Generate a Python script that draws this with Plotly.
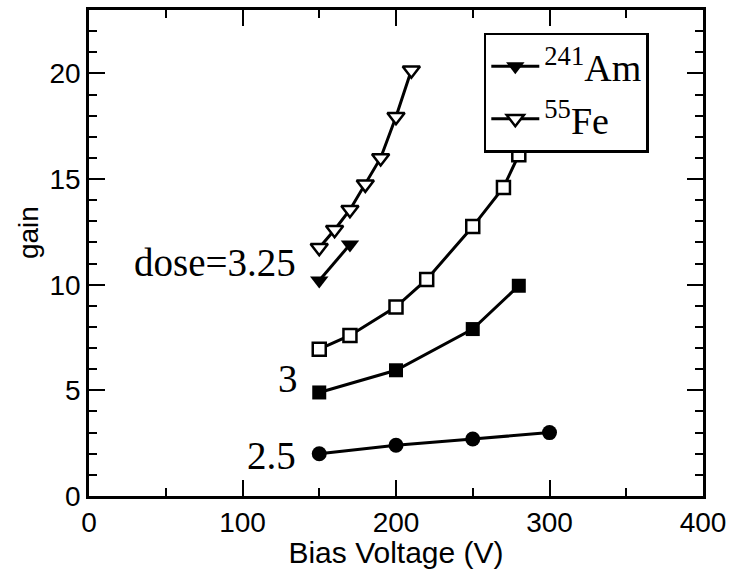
import plotly.graph_objects as go

# Gain vs bias voltage for three irradiation doses
v_25 = [150, 200, 250, 300]
g_25 = [2.0, 2.4, 2.7, 3.0]

v_3_am = [150, 200, 250, 280]
g_3_am = [4.9, 5.95, 7.9, 9.95]

v_3_fe = [150, 170, 200, 220, 250, 270, 280]
g_3_fe = [6.95, 7.6, 8.95, 10.25, 12.75, 14.6, 16.15]

v_325_am = [150, 170]
g_325_am = [10.2, 11.9]

v_325_fe = [150, 160, 170, 180, 190, 200, 210]
g_325_fe = [11.75, 12.6, 13.55, 14.75, 16.0, 17.95, 20.15]

dose_labels = ["dose=3.25", "3", "2.5"]
dose_label_x = [136, 137.5, 136]
dose_label_y = [11.05, 5.55, 1.9]

LINE = dict(color="black", width=3)
fig = go.Figure()

fig.add_trace(go.Scatter(x=v_325_am, y=g_325_am, mode="lines+markers", line=LINE,
                         marker=dict(symbol="triangle-down", size=16, color="black"),
                         name="<sup>241</sup>Am"))
fig.add_trace(go.Scatter(x=v_325_fe, y=g_325_fe, mode="lines+markers", line=LINE,
                         marker=dict(symbol="triangle-down", size=15, color="white",
                                     line=dict(color="black", width=2.5)),
                         name="<sup>55</sup>Fe"))
fig.add_trace(go.Scatter(x=v_3_fe, y=g_3_fe, mode="lines+markers", line=LINE,
                         marker=dict(symbol="square", size=13, color="white",
                                     line=dict(color="black", width=2.5)),
                         showlegend=False))
fig.add_trace(go.Scatter(x=v_3_am, y=g_3_am, mode="lines+markers", line=LINE,
                         marker=dict(symbol="square", size=14, color="black"),
                         showlegend=False))
fig.add_trace(go.Scatter(x=v_25, y=g_25, mode="lines+markers", line=LINE,
                         marker=dict(symbol="circle", size=15, color="black"),
                         showlegend=False))

for txt, lx, ly in zip(dose_labels, dose_label_x, dose_label_y):
    fig.add_annotation(x=lx, y=ly, xref="x", yref="y", text=txt, showarrow=False,
                       xanchor="right", yanchor="middle",
                       font=dict(family="Liberation Serif", size=39, color="black"))

# y-axis label, placed slightly above the vertical centre
fig.add_annotation(x=-0.0985, y=0.542, xref="paper", yref="paper", text="gain",
                   showarrow=False, textangle=-90, xanchor="center", yanchor="middle",
                   font=dict(family="Liberation Sans", size=28, color="black"))

axis_common = dict(
    showline=True, linecolor="black", linewidth=2.5, mirror="allticks",
    ticks="inside", ticklen=16, tickwidth=2, tickcolor="black",
    showgrid=False, zeroline=False,
    tickfont=dict(family="Liberation Sans", size=28, color="black"),
)

fig.update_xaxes(range=[0, 400], dtick=100,
                 minor=dict(dtick=50, ticks="inside", ticklen=8, tickwidth=2, tickcolor="black"),
                 title=dict(text="Bias Voltage (V)", standoff=0,
                            font=dict(family="Liberation Sans", size=30, color="black")),
                 **axis_common)
fig.update_yaxes(range=[0, 23], dtick=5,
                 minor=dict(dtick=1, ticks="inside", ticklen=8, tickwidth=2, tickcolor="black"),
                 **axis_common)

fig.update_layout(
    width=734, height=569,
    margin=dict(l=89, r=31, t=7, b=73),
    paper_bgcolor="white", plot_bgcolor="white",
    legend=dict(x=0.643, y=0.9535, xanchor="left", yanchor="top",
                bgcolor="white", bordercolor="black", borderwidth=2.5,
                font=dict(family="Liberation Serif", size=38, color="black"),
                itemwidth=48, tracegroupgap=0),
)

fig.write_html("out.html")
